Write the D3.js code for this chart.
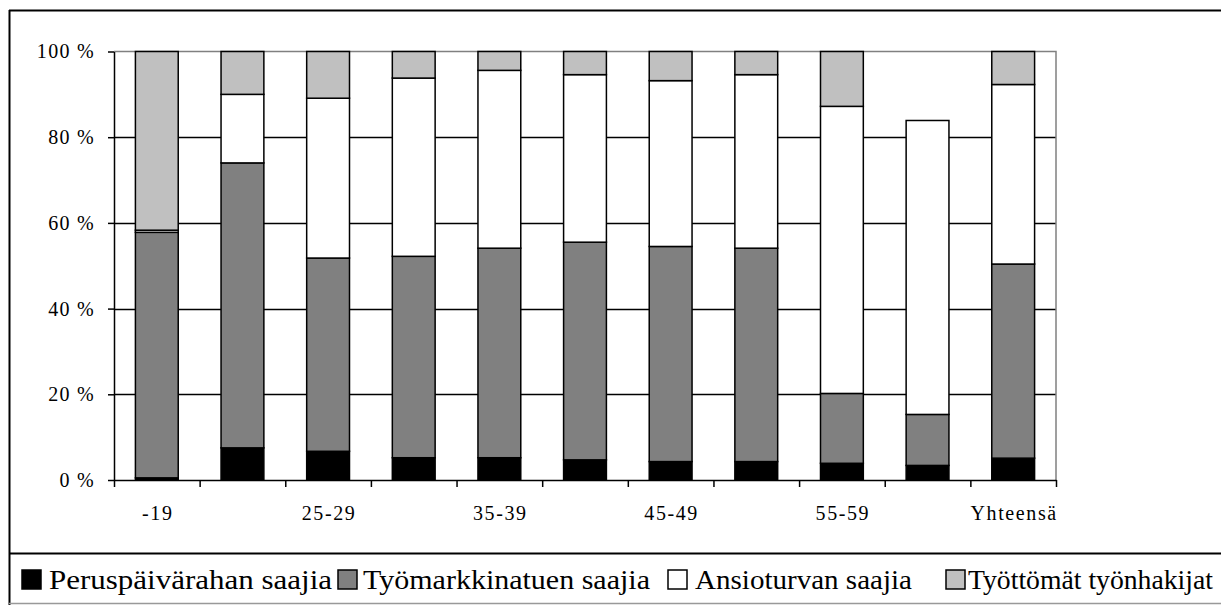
<!DOCTYPE html>
<html><head><meta charset="utf-8">
<script src="https://cdn.jsdelivr.net/npm/d3@7"></script>
<style>
html,body{margin:0;padding:0;background:#fff;}
svg{display:block;}
svg text{font-family:"Liberation Serif","DejaVu Serif","Noto Serif","Times New Roman",Times,serif !important;}
</style></head>
<body>
<svg id="chart" width="1221" height="605"></svg>
<script>
const categories = ["-19","20-24","25-29","30-34","35-39","40-44","45-49","50-54","55-59","60-64","Yhteensä"];
const seriesNames = ["Peruspäivärahan saajia","Työmarkkinatuen saajia","Ansioturvan saajia","Työttömät työnhakijat"];
const peruspaivaraha = [0.5, 7.5, 6.7, 5.2, 5.2, 4.7, 4.3, 4.3, 3.9, 3.4, 5.1];
const tyomarkkinatuki = [57.3, 66.5, 45.1, 47.0, 48.9, 50.8, 50.2, 49.8, 16.3, 11.9, 45.3];
const ansioturva = [0.5, 16.0, 37.3, 41.6, 41.5, 39.1, 38.7, 40.5, 67.0, 68.6, 41.9];
const tyottomat = [41.7, 10.0, 10.9, 6.2, 4.4, 5.4, 6.8, 5.4, 12.8, 0.0, 7.7];
const yTicks = [0, 20, 40, 60, 80, 100];
const shownLabels = ["-19","25-29","35-39","45-49","55-59","Yhteensä"];
const colors = ["#000000","#808080","#ffffff","#c0c0c0"];

const svg = d3.select("#chart");
const W = 1221, H = 605;
const plot = {left:114, right:1056, top:51.5, bottom:480};

// outer frame
svg.append("line").attr("x1",9.5).attr("x2",9.5).attr("y1",10).attr("y2",H).attr("stroke","#000").attr("stroke-width",2);
svg.append("line").attr("x1",9).attr("x2",W).attr("y1",10.5).attr("y2",10.5).attr("stroke","#000").attr("stroke-width",2);
svg.append("line").attr("x1",9).attr("x2",W).attr("y1",553.5).attr("y2",553.5).attr("stroke","#000").attr("stroke-width",2);
svg.append("line").attr("x1",9).attr("x2",W).attr("y1",603.5).attr("y2",603.5).attr("stroke","#999").attr("stroke-width",1.5);

const x = d3.scaleBand().domain(categories).range([plot.left, plot.right]).paddingInner(0.5).paddingOuter(0.25);
const xb = d3.scaleLinear().domain([0, categories.length]).range([plot.left, plot.right]);
const y = d3.scaleLinear().domain([0,100]).range([plot.bottom, plot.top]);

// gridlines
svg.append("g").selectAll("line").data(yTicks.filter(d => d > 0 && d < 100)).join("line")
  .attr("x1", plot.left).attr("x2", plot.right)
  .attr("y1", d => Math.round(y(d))+0.5).attr("y2", d => Math.round(y(d))+0.5)
  .attr("stroke","#000").attr("stroke-width",1.5);
// plot border top & right (gray)
svg.append("path")
  .attr("d", `M${plot.left},${y(100)}H${plot.right}V${plot.bottom}`)
  .attr("fill","none").attr("stroke","#808080").attr("stroke-width",1.5);

// stacked data
const table = categories.map((c,i) => ({cat:c, s0:peruspaivaraha[i], s1:tyomarkkinatuki[i], s2:ansioturva[i], s3:tyottomat[i]}));
const stack = d3.stack().keys(["s0","s1","s2","s3"])(table);
stack.forEach((layer, k) => {
  svg.append("g").selectAll("rect").data(layer.filter(d => d[1]-d[0] > 0)).join("rect")
    .attr("x", d => x(d.data.cat))
    .attr("width", x.bandwidth())
    .attr("y", d => y(d[1]))
    .attr("height", d => y(d[0]) - y(d[1]))
    .attr("fill", colors[k])
    .attr("stroke","#000").attr("stroke-width",1.5);
});

// y axis
const yAxis = svg.append("g").attr("transform",`translate(${plot.left},0)`)
  .call(d3.axisLeft(y).tickValues(yTicks).tickFormat(d => d + " %").tickSize(6).tickSizeOuter(0));
yAxis.select(".domain").attr("stroke","#000").attr("stroke-width",1.5);
yAxis.selectAll(".tick line").attr("stroke","#000").attr("stroke-width",1.5);
yAxis.selectAll(".tick text").attr("x",-19).attr("font-size",20).attr("letter-spacing","1.3px")
  .attr("fill","#000");

// x axis (ticks at category boundaries)
const xAxis = svg.append("g").attr("transform",`translate(0,${plot.bottom})`)
  .call(d3.axisBottom(xb).tickValues(d3.range(0, categories.length+1)).tickFormat("").tickSize(7).tickSizeOuter(0));
xAxis.select(".domain").attr("stroke","#000").attr("stroke-width",1.5);
xAxis.selectAll(".tick line").attr("stroke","#000").attr("stroke-width",1.5);

svg.append("g").selectAll("text").data(shownLabels).join("text")
  .attr("x", d => x(d) + x.bandwidth()/2 + 1)
  .attr("y", 520)
  .attr("text-anchor","middle")
  .attr("font-size",20).attr("letter-spacing","1.6px")
  .attr("fill","#000")
  .text(d => d);

// legend
const legendX = [21, 337, 667, 945];
const legendTextW = [283, 287, 217, 245];
const lg = svg.append("g");
seriesNames.forEach((name, i) => {
  const g = lg.append("g").attr("transform",`translate(${legendX[i]},0)`);
  g.append("rect").attr("x",1).attr("y",570).attr("width",19).attr("height",19)
    .attr("fill",colors[i]).attr("stroke","#000").attr("stroke-width",1.5);
  g.append("text").attr("x", i===0 ? 28 : (i===1 ? 26 : (i===2?28:23))).attr("y",589)
    .attr("font-size",28).attr("fill","#000")
    .attr("textLength", legendTextW[i]).attr("lengthAdjust","spacingAndGlyphs")
    .text(name);
});
</script>
</body></html>
